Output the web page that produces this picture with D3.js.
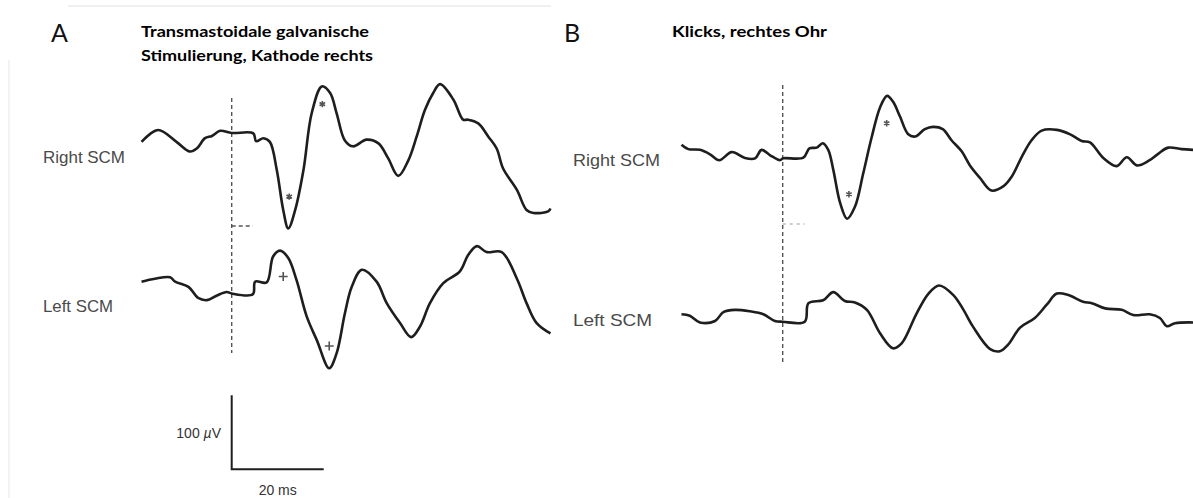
<!DOCTYPE html>
<html>
<head>
<meta charset="utf-8">
<script src="https://cdn.jsdelivr.net/npm/d3@7"></script>
<style>
  body { margin: 0; background: #fff; }
</style>
</head>
<body>
<div id="chart"></div>
<script>
// traces: time in ms (0 = stimulus), amplitude in µV
const aRightTime = [-19.6, -16.0, -12.0, -9.1, -7.6, -5.8, -4.3, -2.5, 0, 4.7, 5.3, 6.9, 8.3, 9.8, 11.2, 12.3, 13.8, 15.6, 17.4, 19.6, 21.4, 22.8, 24.6, 26.4, 29.3, 31.9, 34.0, 36.2, 38.4, 40.2, 42.0, 43.8, 45.3, 48.2, 50.3, 51.4, 53.6, 55.8, 57.6, 59.0, 62.0, 64.1, 65.6, 68.8, 69.3];
const aRightUV = [-12, 4, -12, -25, -21, -7, -4, 3, 0, -0.5, -11, -7, -12, -50, -104, -129, -104, -50, 27, 63, 54, 27, -10, -18, -9, -14, -34, -58, -37, -5, 31, 54, 66, 45, 18, 18, 13, -5, -21, -48, -77, -104, -108, -106, -102];

const aLeftTime = [-19.6, -16.7, -13.4, -12.3, -9.4, -7.3, -5.4, -3.3, -1.1, 0, 4.6, 5.1, 7.6, 9.0, 10.5, 12.3, 14.1, 16.3, 18.5, 21.2, 22.8, 24.6, 26.1, 28.3, 31.5, 33.7, 36.6, 39.0, 40.9, 43.1, 46.0, 49.6, 51.4, 53.3, 55.4, 58.7, 62.0, 64.1, 66.3, 69.3];
const aLeftUV = [16, 20, 22, 16, 9, -6, -9, -3, 2, 0, -1, 16, 15, 50, 58, 48, 18, -31, -63, -101, -81, -27, 9, 32, 16, -13, -40, -59, -45, -13, 14, 30, 52, 64, 56, 56, 20, -13, -40, -54];

const bRightTime = [-22.0, -20.5, -18.0, -15.8, -13.8, -11.1, -8.2, -6.0, -4.6, -2.8, -0.6, 0.1, 4.5, 5.8, 7.4, 8.7, 9.9, 11.0, 12.5, 14.0, 15.7, 17.5, 19.3, 21.2, 22.7, 24.0, 25.5, 27.3, 28.8, 30.9, 32.7, 34.8, 36.7, 38.9, 40.7, 42.9, 45.4, 48.0, 49.8, 52.0, 54.1, 56.3, 59.6, 62.5, 65.0, 66.8, 69.7, 72.6, 74.8, 77.0, 79.5, 81.7, 83.8, 86.7, 89.2];
const bRightUV = [18, 12, 11, 5, -3, 8, 0, -0.5, 11, 4, -3, -0.5, 0.5, 13, 14, 20, 11, -16, -61, -82, -66, -21, 27, 69, 84, 76, 56, 32, 29, 39, 42, 39, 24, 9, -10, -27, -44, -38, -25, 2, 24, 37, 38, 32, 23, 21, 0, -11, 1, -10, -4, 6, 14, 12, 11];

const bLeftTime = [-22.0, -20.2, -18.0, -14.7, -12.9, -10.4, -7.1, -4.2, -1.7, 0, 4.8, 5.6, 8.8, 11.0, 13.5, 15.7, 18.3, 21.2, 24.0, 25.9, 29.1, 31.7, 34.0, 37.1, 39.3, 41.4, 45.1, 47.2, 49.0, 51.6, 54.8, 57.4, 59.6, 62.1, 65.3, 67.2, 70.1, 73.7, 76.2, 79.8, 82.0, 83.5, 85.3, 89.2];
const bLeftUV = [10, 8, -1, 1, 13, 16, 14, 10, 1, 0, 0, 25, 29, 40, 28, 26, 16, -16, -36, -29, 11, 38, 49, 36, 16, -7, -37, -40, -31, -8, 5, 23, 38, 36, 27, 25, 18, 16, 9, 10, 5, -6, -2, -1];

// peak markers
const aRightStarTime = [12.5, 19.7];
const aRightStarUV = [-86, 39];
const aLeftPlusTime = [11.2, 21.2];
const aLeftPlusUV = [23, -71];
const bRightStarTime = [14.4, 22.6];
const bRightStarUV = [-49, 47];

// calibration
const scaleBarUV = 100;
const scaleBarMs = 20;
const scaleBarLabels = ["100 ", "µ", "V", "20 ms"];

const panelLetters = ["A", "B"];
const titleA = ["Transmastoidale galvanische", "Stimulierung, Kathode rechts"];
const titleB = ["Klicks, rechtes Ohr"];
const traceLabels = ["Right SCM", "Left SCM"];

const W = 1193, H = 498;
const svg = d3.select("#chart").append("svg").attr("width", W).attr("height", H);

// faint scan borders
svg.append("line").attr("x1", 68).attr("x2", 551).attr("y1", 6).attr("y2", 6)
  .attr("stroke", "#f0f0f0").attr("stroke-width", 2);
svg.append("line").attr("x1", 9).attr("x2", 9).attr("y1", 60).attr("y2", H)
  .attr("stroke", "#f3f3f3").attr("stroke-width", 2);

const msPx = 92 / 20;     // px per ms
const uvPx = 74 / 100;    // px per µV

function xScale(x0) {
  return d3.scaleLinear().domain([0, 20]).range([x0, x0 + 20 * msPx]);
}
function yScale(base) {
  return d3.scaleLinear().domain([0, 100]).range([base, base - 100 * uvPx]);
}

const xA = xScale(231.7), xB = xScale(782.7);
const yAR = yScale(133), yAL = yScale(293.5), yBR = yScale(158), yBL = yScale(321.7);

// stimulus onset lines
function stimLine(x, y1, y2) {
  svg.append("line").attr("x1", x(0)).attr("x2", x(0)).attr("y1", y1).attr("y2", y2)
    .attr("stroke", "#555").attr("stroke-width", 1.4).attr("stroke-dasharray", "4,3");
}
stimLine(xA, 98, 353);
stimLine(xB, 85, 362);

svg.append("line").attr("x1", xA(0)).attr("x2", xA(4.6)).attr("y1", 226).attr("y2", 226)
  .attr("stroke", "#555").attr("stroke-width", 1.4).attr("stroke-dasharray", "4,3");
svg.append("line").attr("x1", xB(0)).attr("x2", xB(4.8)).attr("y1", 224).attr("y2", 224)
  .attr("stroke", "#999").attr("stroke-width", 1.2).attr("stroke-dasharray", "3,4");

// traces
function trace(t, v, x, y) {
  const line = d3.line()
    .curve(d3.curveCatmullRom.alpha(0.5))
    .x(function (d) { return x(d[0]) })
    .y(function (d) { return y(d[1]) });
  svg.append("path")
    .attr("d", line(d3.zip(t, v)))
    .attr("fill", "none")
    .attr("stroke", "#1e1e1e")
    .attr("stroke-width", 2.6)
    .attr("stroke-linejoin", "round");
}
trace(aRightTime, aRightUV, xA, yAR);
trace(aLeftTime, aLeftUV, xA, yAL);
trace(bRightTime, bRightUV, xB, yBR);
trace(bLeftTime, bLeftUV, xB, yBL);

// peak markers
function marks(t, v, x, y, type) {
  const sym = d3.symbol().type(type).size(28);
  svg.selectAll(null).data(d3.zip(t, v)).enter().append("path")
    .attr("d", sym)
    .attr("transform", function (d) { return "translate(" + x(d[0]) + "," + y(d[1]) + ")" })
    .attr("fill", "none").attr("stroke", "#555").attr("stroke-width", 1.6);
}
marks(aRightStarTime, aRightStarUV, xA, yAR, d3.symbolAsterisk);
marks(aLeftPlusTime, aLeftPlusUV, xA, yAL, d3.symbolPlus);
marks(bRightStarTime, bRightStarUV, xB, yBR, d3.symbolAsterisk);

// trace labels
const labelFont = "'Liberation Sans', Arial, sans-serif";
[[43, 163, traceLabels[0], 82], [43, 312, traceLabels[1], 70],
 [573, 166, traceLabels[0], 87], [573, 326, traceLabels[1], 79]].forEach(function (l) {
  svg.append("text").attr("x", l[0]).attr("y", l[1]).text(l[2])
    .attr("font-family", labelFont).attr("font-size", 17).attr("fill", "#4a4a4a")
    .attr("textLength", l[3]).attr("lengthAdjust", "spacingAndGlyphs");
});

// calibration bar
const yCal = yScale(469.3);
svg.append("path")
  .attr("d", "M" + xA(0) + "," + yCal(scaleBarUV) + "V" + yCal(0) + "H" + xA(scaleBarMs))
  .attr("fill", "none").attr("stroke", "#1e1e1e").attr("stroke-width", 2);
const cal = svg.append("text").attr("x", 221).attr("y", 438).attr("text-anchor", "end")
  .attr("font-family", labelFont).attr("font-size", 14).attr("fill", "#333");
cal.append("tspan").text(scaleBarLabels[0]);
cal.append("tspan").text(scaleBarLabels[1]).attr("font-style", "italic");
cal.append("tspan").text(scaleBarLabels[2]);
svg.append("text").attr("x", xA(scaleBarMs / 2)).attr("y", 495).attr("text-anchor", "middle")
  .attr("font-family", labelFont).attr("font-size", 14).attr("fill", "#333").text(scaleBarLabels[3]);

// panel letters and titles
const titleFont = "Lato, 'Open Sans', sans-serif";
svg.append("text").attr("x", 51).attr("y", 42).text(panelLetters[0])
  .attr("font-family", titleFont).attr("font-size", 25).attr("fill", "#111");
svg.append("text").attr("x", 564).attr("y", 42).text(panelLetters[1])
  .attr("font-family", titleFont).attr("font-size", 25).attr("fill", "#111");

titleA.forEach(function (s, i) {
  svg.append("text").attr("x", 141).attr("y", 37 + i * 24).text(s)
    .attr("font-family", titleFont).attr("font-weight", "bold").attr("font-size", 16)
    .attr("fill", "#000").attr("textLength", i === 0 ? 228 : 232).attr("lengthAdjust", "spacingAndGlyphs");
});
svg.append("text").attr("x", 672).attr("y", 37).text(titleB[0])
  .attr("font-family", titleFont).attr("font-weight", "bold").attr("font-size", 16)
  .attr("fill", "#000").attr("textLength", 155).attr("lengthAdjust", "spacingAndGlyphs");
</script>
</body>
</html>
